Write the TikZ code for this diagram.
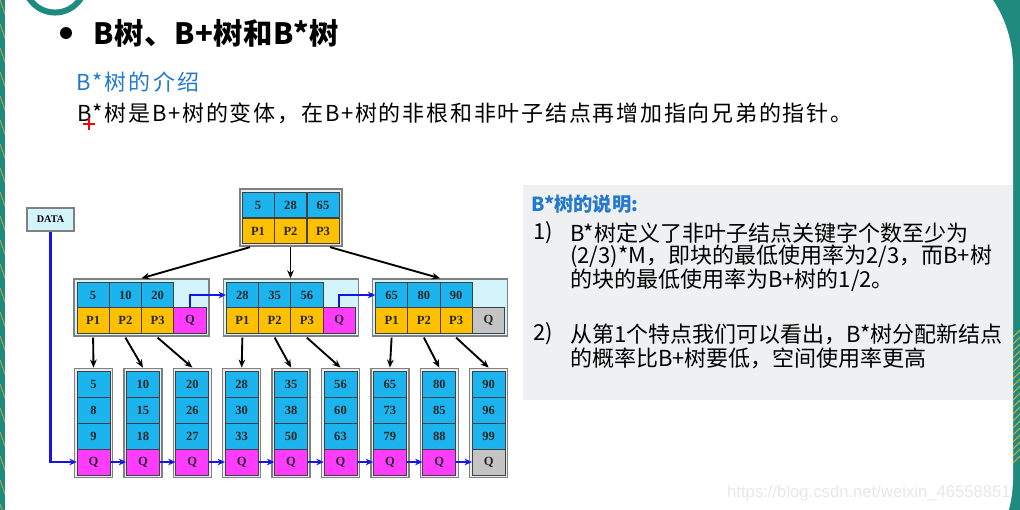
\documentclass[tikz,border=0pt]{standalone}
\usepackage{fontspec}
\setmainfont{Liberation Serif}
\newfontfamily\cjk{Noto Sans CJK SC}
\newfontfamily\cjks{Noto Sans CJK SC}[LetterSpace=8]
\newfontfamily\cjkt{Noto Sans CJK SC}[LetterSpace=10]
\newfontfamily\cjkh{Noto Sans CJK SC}[LetterSpace=2]
\newfontfamily\wm{Liberation Sans}
\usetikzlibrary{arrows.meta,calc}
\definecolor{cellblue}{HTML}{1CB4EE}
\definecolor{cellorange}{HTML}{FFC000}
\definecolor{cellpink}{HTML}{FF3CFF}
\definecolor{cellgray}{HTML}{C4C4C4}
\definecolor{boxcyan}{HTML}{D4F4FB}
\definecolor{boxgap}{HTML}{E8EEF0}
\definecolor{teal1}{HTML}{1F8A7E}
\definecolor{gold1}{HTML}{E2B13C}
\definecolor{titleblue}{HTML}{2479CF}
\definecolor{linkblue}{HTML}{1515E6}
\definecolor{panelgray}{HTML}{EFF0F1}
\tikzset{
  cell/.style={draw=black!75, line width=0.5pt, inner sep=0pt, minimum width=24.2pt, minimum height=19.2pt,
    font=\fontsize{9.4}{10}\selectfont\bfseries, text=black!85},
  kc/.style={cell, fill=cellblue},
  pc/.style={cell, fill=cellorange},
  qc/.style={cell, fill=cellpink},
  qg/.style={cell, fill=cellgray},
  lcell/.style={minimum width=24.75pt, minimum height=19.5pt},
  frame/.style={draw=black!50, line width=1.1pt, fill=boxgap, inner sep=0pt},
  framec/.style={frame, fill=boxcyan},
  tarrow/.style={-{Stealth[length=6pt,width=5pt]}, line width=1.4pt, black},
  barrow/.style={-{Stealth[length=5.5pt,width=5pt]}, line width=1.8pt, linkblue},
  plain/.style={anchor=west, inner sep=0pt},
}
\begin{document}
\begin{tikzpicture}[x=0.75pt,y=-0.75pt]
\useasboundingbox (0,0) rectangle (1020,510);
\clip (0,0) rectangle (1020,510);
% page background
\fill[teal1] (0,0) rectangle (1020,510);
\fill[white] (5,-55) {[rounded corners=91.5pt] -- (1013,-55) -- (1013,600)} -- (5,600) -- cycle;
\foreach \y in {0,24,...,510} \draw[gold1, line width=0.5pt] (0,\y) -- (5,\y+14);
\foreach \y in {330,337,...,460} \draw[gold1, line width=0.6pt] (1013,\y+7) -- (1020,\y);
\draw[teal1, line width=4.5pt] (55,-18) circle (22.9pt);
% heading
\fill (66,33) circle (4.5pt);
\node[plain, font=\cjkh\bfseries\fontsize{22}{26}\selectfont] (title) at (93,33) {B树、B+树和B*树};
\node[plain, text=titleblue, font=\cjkt\fontsize{16.5}{20}\selectfont] (sub) at (76,82) {B*树的介绍};
\node[plain, font=\cjks\fontsize{16.5}{20}\selectfont] (desc) at (77,113) {B*树是B+树的变体，在B+树的非根和非叶子结点再增加指向兄弟的指针。};
\draw[red, line width=1.1pt] (83,124) -- (95,124) (89,118) -- (89,130);
% explanation panel
\node[fill=panelgray, inner sep=0pt, minimum width=367.5pt, minimum height=161.25pt, anchor=north west] (panel) at (523,185) {};
\node[plain, text=titleblue, font=\cjk\bfseries\fontsize{14.5}{18}\selectfont] (ph) at (531,204) {B*树的说明:};
\begin{scope}[every node/.style={plain, font=\cjk\fontsize{16.5}{20}\selectfont}]
\node (n1) at (533,233) {1)};
\node (t11) at (570,233) {B*树定义了非叶子结点关键字个数至少为};
\node (t12) at (570,256) {(2/3)*M，即块的最低使用率为2/3，而B+树};
\node (t13) at (570,280) {的块的最低使用率为B+树的1/2。};
\node (n2) at (533,334) {2)};
\node (t21) at (570,334) {从第1个特点我们可以看出，B*树分配新结点};
\node (t22) at (570,358) {的概率比B+树要低，空间使用率更高};
\end{scope}
% DATA box
\node[framec, minimum width=35.25pt, minimum height=17.25pt, font=\fontsize{7.6}{8}\selectfont\bfseries] (data) at (50.5,219.5) {DATA};
% root
\node[frame, minimum width=76.5pt, minimum height=42.75pt] (r) at (291,217.5) {};
\node[kc] (r-k1) at (258,205) {5};
\node[kc] (r-k2) at (290.5,205) {28};
\node[kc] (r-k3) at (323,205) {65};
\node[pc] (r-p1) at (258,231) {P1};
\node[pc] (r-p2) at (290.5,231) {P2};
\node[pc] (r-p3) at (323,231) {P3};
% middle level
\foreach \k/\a/\b/\c/\qs in {0/5/10/20/qc,1/28/35/56/qc,2/65/80/90/qg} {
  \pgfmathsetmacro\xx{77+149.25*\k}
  \node[framec, minimum width=101.25pt, minimum height=42.75pt] (m\k) at (\xx+64.5,307.5) {};
  \node[kc] (m\k-k1) at (\xx+16.1,295) {\a};
  \node[kc] (m\k-k2) at (\xx+48.4,295) {\b};
  \node[kc] (m\k-k3) at (\xx+80.6,295) {\c};
  \node[pc] (m\k-p1) at (\xx+16.1,320.5) {P1};
  \node[pc] (m\k-p2) at (\xx+48.4,320.5) {P2};
  \node[pc] (m\k-p3) at (\xx+80.6,320.5) {P3};
  \node[\qs] (m\k-q) at (\xx+112.9,320.5) {Q};
}
% leaves
\foreach \i/\a/\b/\c/\qs in {0/5/8/9/qc,1/10/15/18/qc,2/20/26/27/qc,3/28/30/33/qc,4/35/38/50/qc,5/56/60/63/qc,6/65/73/79/qc,7/80/85/88/qc,8/90/96/99/qg} {
  \pgfmathsetmacro\xx{77+49.4*\i+16.5}
  \node[frame, minimum width=28.5pt, minimum height=81.75pt] (l\i) at (\xx,422.8) {};
  \node[kc, lcell] (l\i-1) at (\xx,384) {\a};
  \node[kc, lcell] (l\i-2) at (\xx,410) {\b};
  \node[kc, lcell] (l\i-3) at (\xx,436) {\c};
  \node[\qs, lcell] (l\i-4) at (\xx,462) {Q};
}
% tree arrows
\coordinate (rs1) at ($(r-p1.south)+(-8,3)$);
\coordinate (rs2) at ($(r-p2.south)+(0,3)$);
\coordinate (rs3) at ($(r-p3.south)+(7,3)$);
\draw[tarrow] (rs1) -- (m0.north);
\draw[tarrow] (rs2) -- (rs2 |- m1.north);
\draw[tarrow] (rs3) -- (m2.north);
\foreach \k in {0,1,2} {
  \foreach \j in {1,2,3} {
    \pgfmathtruncatemacro\lf{3*\k+\j-1}
    \draw[tarrow] ($(m\k-p\j.south)+(0,4)$) -- (l\lf.north);
  }
}
% sibling links
\draw[barrow] (m0-q.north) |- (m1-k1.west);
\draw[barrow] (m1-q.north) |- (m2-k1.west);
\foreach \i [evaluate=\i as \n using int(\i+1)] in {0,...,7} \draw[barrow] (l\i-4.east) -- (l\n-4.west);
\draw[barrow] (data.south) |- (l0-4.west);
% watermark
\node[anchor=east, inner sep=0pt, text=black!9, font=\wm\fontsize{12.5}{14}\selectfont] (wmk) at (1011,493) {https://blog.csdn.net/weixin\_46558851};
\end{tikzpicture}
\end{document}
